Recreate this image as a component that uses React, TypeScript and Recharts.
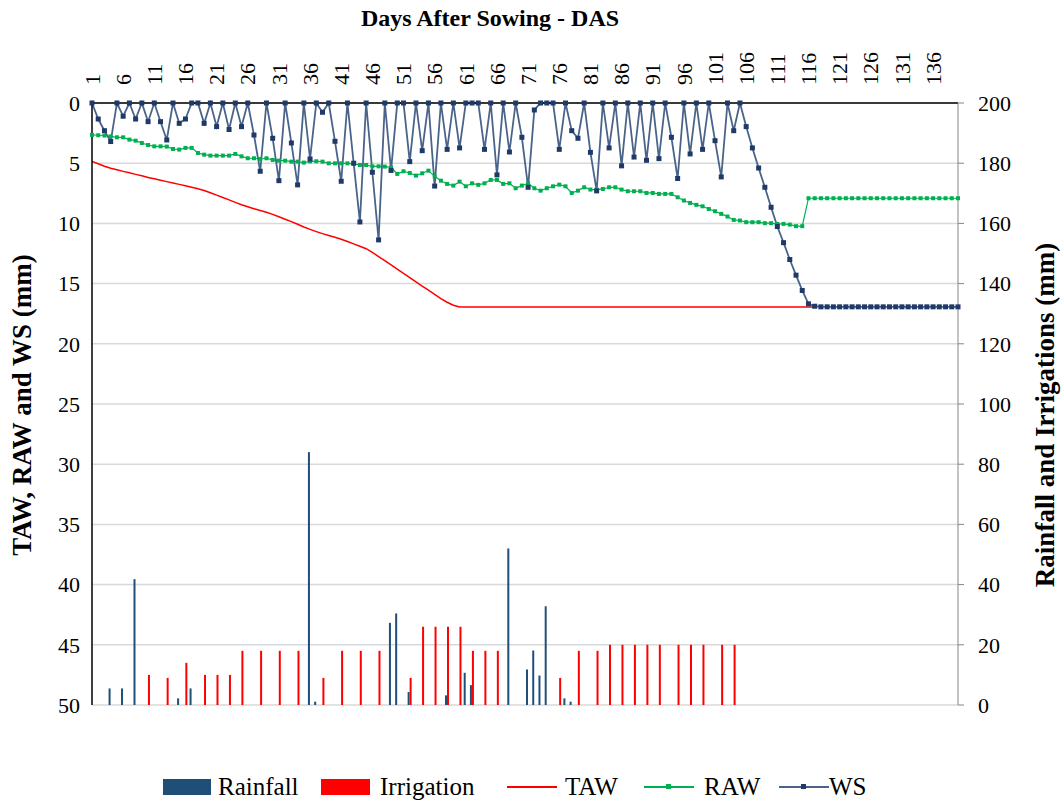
import React from "react"
import {
  Bar,
  CartesianGrid,
  ComposedChart,
  Line,
  XAxis,
  YAxis,
} from "recharts"

const FONT = '"Liberation Serif", "Times New Roman", serif'

// Days after sowing shown on the top axis
const DAY_TICKS = [1, 6, 11, 16, 21, 26, 31, 36, 41, 46, 51, 56, 61, 66, 71, 76, 81, 86, 91, 96, 101, 106, 111, 116, 121, 126, 131, 136]
const LEFT_TICKS = [0, 5, 10, 15, 20, 25, 30, 35, 40, 45, 50]
const RIGHT_TICKS = [0, 20, 40, 60, 80, 100, 120, 140, 160, 180, 200]

// Water storage depletion (mm), day 1..140
const WS_MM = [
  0, 1.33, 2.3, 3.2, 0, 1.1, 0, 1.33, 0, 1.55,
  0, 1.55, 3.07, 0, 1.69, 1.33, 0, 0, 1.69, 0,
  1.96, 0, 2.2, 0, 1.96, 0, 2.66, 5.67, 0, 2.93,
  6.45, 0, 3.32, 6.8, 0, 4.65, 0, 0.77, 0, 3.18,
  6.5, 0, 5.0, 9.88, 0, 5.75, 11.37, 0, 5.6, 0,
  0, 4.87, 0, 3.96, 0, 6.9, 0, 3.85, 0, 3.73,
  0, 0, 0, 3.85, 0, 5.97, 0, 4.07, 0, 2.85,
  7.0, 0.58, 0, 0, 0, 3.85, 0, 2.3, 2.93, 0,
  4.1, 7.3, 0, 3.73, 0, 5.22, 0, 4.49, 0, 4.76,
  0, 4.62, 0, 2.85, 6.27, 0, 4.23, 0, 3.85, 0,
  3.13, 6.14, 0, 2.3, 0, 1.96, 3.73, 5.4, 7.0, 8.66,
  10.26, 11.6, 13.0, 14.3, 15.57, 16.68, 16.88, 16.93, 16.93, 16.93,
  16.93, 16.93, 16.93, 16.93, 16.93, 16.93, 16.93, 16.93, 16.93, 16.93,
  16.93, 16.93, 16.93, 16.93, 16.93, 16.93, 16.93, 16.93, 16.93, 16.93,
]

// Readily available water (mm), day 1..140
const RAW_MM = [
  2.65, 2.68, 2.7, 2.77, 2.85, 2.85, 3.04, 3.13, 3.32, 3.49,
  3.6, 3.6, 3.62, 3.82, 3.87, 3.73, 3.73, 4.15, 4.29, 4.37,
  4.37, 4.37, 4.37, 4.23, 4.43, 4.59, 4.59, 4.65, 4.59, 4.73,
  4.79, 4.79, 4.87, 4.87, 4.95, 4.85, 4.84, 4.87, 5.01, 5.01,
  5.01, 5.01, 5.06, 5.15, 5.15, 5.26, 5.26, 5.28, 5.34, 5.89,
  5.67, 5.81, 6.03, 5.84, 5.62, 6.09, 6.45, 6.72, 6.86, 6.53,
  6.92, 6.67, 6.8, 6.67, 6.39, 6.39, 6.72, 6.67, 7.08, 6.86,
  6.67, 7.08, 7.28, 7.08, 6.92, 6.78, 6.92, 7.47, 7.28, 7.0,
  7.19, 7.19, 7.14, 7.0, 7.0, 7.19, 7.33, 7.33, 7.33, 7.47,
  7.47, 7.55, 7.55, 7.55, 7.83, 8.1, 8.3, 8.46, 8.58, 8.8,
  8.99, 9.21, 9.43, 9.71, 9.76, 9.9, 9.9, 9.9, 9.98, 9.98,
  10.04, 10.04, 10.1, 10.23, 10.23, 7.91, 7.91, 7.91, 7.91, 7.91,
  7.91, 7.91, 7.91, 7.91, 7.91, 7.91, 7.91, 7.91, 7.91, 7.91,
  7.91, 7.91, 7.91, 7.91, 7.91, 7.91, 7.91, 7.91, 7.91, 7.91,
]

// Total available water (mm), day 1..117
const TAW_MM = [
  4.85, 5.05, 5.25, 5.42, 5.55, 5.68, 5.8, 5.93, 6.05, 6.18,
  6.3, 6.42, 6.53, 6.65, 6.76, 6.88, 7.0, 7.12, 7.27, 7.45,
  7.65, 7.85, 8.05, 8.25, 8.45, 8.62, 8.78, 8.93, 9.08, 9.25,
  9.45, 9.65, 9.85, 10.07, 10.3, 10.5, 10.68, 10.85, 11.0, 11.15,
  11.32, 11.5, 11.7, 11.9, 12.1, 12.4, 12.75, 13.1, 13.45, 13.8,
  14.15, 14.5, 14.85, 15.2, 15.55, 15.9, 16.25, 16.55, 16.8, 16.95,
  16.95, 16.95, 16.95, 16.95, 16.95, 16.95, 16.95, 16.95, 16.95, 16.95,
  16.95, 16.95, 16.95, 16.95, 16.95, 16.95, 16.95, 16.95, 16.95, 16.95,
  16.95, 16.95, 16.95, 16.95, 16.95, 16.95, 16.95, 16.95, 16.95, 16.95,
  16.95, 16.95, 16.95, 16.95, 16.95, 16.95, 16.95, 16.95, 16.95, 16.95,
  16.95, 16.95, 16.95, 16.95, 16.95, 16.95, 16.95, 16.95, 16.95, 16.95,
  16.95, 16.95, 16.95, 16.95, 16.95, 16.95, 16.95,
]

// [day, mm]
const RAINFALL = [
  [4, 5.5], [6, 5.5], [8, 41.8], [15, 2.2], [17, 5.5], [36, 84], [37, 1.1],
  [49, 27.3], [50, 30.4], [52, 4.3], [58, 3.2], [61, 10.7], [62, 6.6],
  [68, 52], [71, 11.8], [72, 18.1], [73, 9.8], [74, 32.8], [77, 2.2], [78, 1.1],
]

const IRRIGATION = [
  [10, 10], [13, 9], [16, 14], [19, 10], [21, 10], [23, 10], [25, 18], [28, 18],
  [31, 18], [34, 18], [38, 9], [41, 18], [44, 18], [47, 18], [52, 9], [54, 26],
  [56, 26], [58, 26], [60, 26], [62, 18], [64, 18], [66, 18], [76, 9], [79, 18],
  [82, 18], [84, 20], [86, 20], [88, 20], [90, 20], [92, 20], [95, 20], [97, 20],
  [99, 20], [102, 20], [104, 20],
]

const COLORS = {
  rain: "#1F4E79",
  irrigation: "#FF0000",
  taw: "#FF0000",
  raw: "#00B050",
  wsLine: "#4A6489",
  wsMarker: "#1F3A68",
}

const rainByDay = new Map(RAINFALL.map(([d, v]) => [d, v]))
const irrByDay = new Map(IRRIGATION.map(([d, v]) => [d, v]))

const chartData = WS_MM.map((ws, i) => {
  const day = i + 1
  return {
    day,
    ws,
    raw: RAW_MM[i],
    taw: i < TAW_MM.length ? TAW_MM[i] : null,
    rain: rainByDay.get(day) ?? null,
    irr: irrByDay.get(day) ?? null,
  }
})

function squareDot(color: string, size: number, prefix: string) {
  return (props: any) => {
    const { cx, cy, index } = props
    if (cx == null || cy == null) return <g key={`${prefix}-${index}`} />
    return (
      <rect
        key={`${prefix}-${index}`}
        x={cx - size / 2}
        y={cy - size / 2}
        width={size}
        height={size}
        fill={color}
      />
    )
  }
}

function TopTick(props: any) {
  const { x, y, payload } = props
  return (
    <text
      x={x}
      y={y}
      dy="0.35em"
      transform={`rotate(-90 ${x} ${y})`}
      textAnchor="start"
      fill="#000"
      fontSize={22}
      fontFamily={FONT}
    >
      {payload.value}
    </text>
  )
}

function LegendLine({ color, marker }: { color: string; marker?: string }) {
  return (
    <svg width={50} height={16} style={{ display: "block" }}>
      <line x1={0} y1={8} x2={50} y2={8} stroke={color} strokeWidth={2} />
      {marker && <rect x={22} y={5} width={5} height={5} fill={marker} />}
    </svg>
  )
}

const legendText: React.CSSProperties = {
  fontFamily: FONT,
  fontSize: 25,
  color: "#000",
  lineHeight: "30px",
  whiteSpace: "nowrap",
}

const axisTitle: React.CSSProperties = {
  position: "absolute",
  transform: "translate(-50%, -50%) rotate(-90deg)",
  fontSize: 27,
  fontWeight: "bold",
  whiteSpace: "nowrap",
}

export default function App() {
  return (
    <div
      style={{
        position: "absolute",
        left: 0,
        top: 0,
        width: 1063,
        height: 801,
        background: "#fff",
        fontFamily: FONT,
      }}
    >
      <div
        style={{
          position: "absolute",
          left: 490,
          top: 18,
          transform: "translate(-50%, -50%)",
          fontSize: 24,
          fontWeight: "bold",
          whiteSpace: "nowrap",
        }}
      >
        Days After Sowing - DAS
      </div>

      <ComposedChart
        width={1063}
        height={801}
        data={chartData}
        margin={{ top: 73, right: 0, bottom: 96, left: 0 }}
        barGap={0}
      >
        <CartesianGrid yAxisId="left" horizontal vertical={false} stroke="#D9D9D9" strokeWidth={1.5} />
        <XAxis
          dataKey="day"
          type="number"
          orientation="top"
          domain={[1, 140]}
          ticks={DAY_TICKS}
          interval={0}
          height={30}
          tickSize={0}
          tickMargin={18}
          tick={<TopTick />}
          axisLine={{ stroke: "#000", strokeWidth: 1.5 }}
          tickLine={false}
        />
        <YAxis
          yAxisId="left"
          reversed
          domain={[0, 50]}
          ticks={LEFT_TICKS}
          interval={0}
          width={92}
          tickSize={0}
          tickMargin={12}
          tick={{ fontSize: 22, fill: "#000", fontFamily: FONT }}
          axisLine={{ stroke: "#000", strokeWidth: 1.5 }}
          tickLine={false}
        />
        <YAxis
          yAxisId="right"
          orientation="right"
          domain={[0, 200]}
          ticks={RIGHT_TICKS}
          interval={0}
          width={105}
          tickSize={6}
          tickMargin={14}
          tick={{ fontSize: 22, fill: "#000", fontFamily: FONT, textAnchor: "start" }}
          axisLine={{ stroke: "#868686" }}
          tickLine={{ stroke: "#868686" }}
        />
        <Bar yAxisId="right" dataKey="rain" fill={COLORS.rain} barSize={2} isAnimationActive={false} />
        <Bar yAxisId="right" dataKey="irr" fill={COLORS.irrigation} barSize={2} isAnimationActive={false} />
        <Line
          yAxisId="left"
          dataKey="taw"
          type="linear"
          stroke={COLORS.taw}
          strokeWidth={1.5}
          dot={false}
          activeDot={false}
          isAnimationActive={false}
        />
        <Line
          yAxisId="left"
          dataKey="raw"
          type="linear"
          stroke={COLORS.raw}
          strokeWidth={1.2}
          dot={squareDot(COLORS.raw, 4, "raw")}
          activeDot={false}
          isAnimationActive={false}
        />
        <Line
          yAxisId="left"
          dataKey="ws"
          type="linear"
          stroke={COLORS.wsLine}
          strokeWidth={1.8}
          dot={squareDot(COLORS.wsMarker, 5, "ws")}
          activeDot={false}
          isAnimationActive={false}
        />
      </ComposedChart>

      <div style={{ ...axisTitle, left: 22, top: 405 }}>TAW, RAW and WS (mm)</div>
      <div style={{ ...axisTitle, left: 1045, top: 415 }}>Rainfall and Irrigations (mm)</div>

      {/* legend */}
      <div style={{ position: "absolute", top: 772, left: 0, height: 30 }}>
        <div style={{ position: "absolute", left: 163, top: 7, width: 48, height: 16, background: COLORS.rain }} />
        <div style={{ ...legendText, position: "absolute", left: 218, top: 0 }}>Rainfall</div>
        <div style={{ position: "absolute", left: 321, top: 7, width: 49, height: 16, background: COLORS.irrigation }} />
        <div style={{ ...legendText, position: "absolute", left: 380, top: 0 }}>Irrigation</div>
        <div style={{ position: "absolute", left: 507, top: 7 }}>
          <LegendLine color={COLORS.taw} />
        </div>
        <div style={{ ...legendText, position: "absolute", left: 565, top: 0 }}>TAW</div>
        <div style={{ position: "absolute", left: 644, top: 7 }}>
          <LegendLine color={COLORS.raw} marker={COLORS.raw} />
        </div>
        <div style={{ ...legendText, position: "absolute", left: 704, top: 0 }}>RAW</div>
        <div style={{ position: "absolute", left: 779, top: 7 }}>
          <LegendLine color={COLORS.wsLine} marker={COLORS.wsMarker} />
        </div>
        <div style={{ ...legendText, position: "absolute", left: 829, top: 0 }}>WS</div>
      </div>
    </div>
  )
}
